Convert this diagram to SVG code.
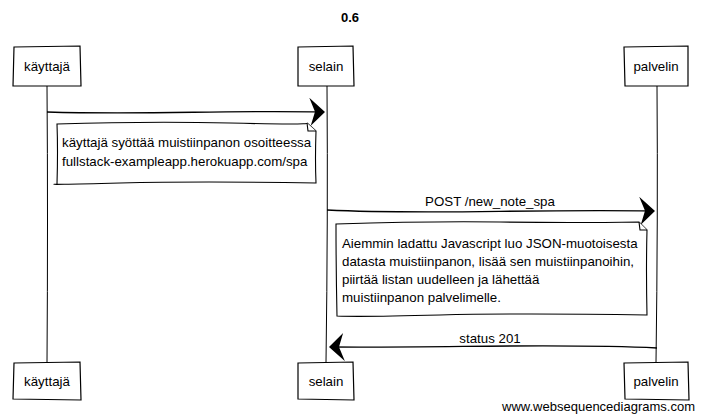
<svg xmlns="http://www.w3.org/2000/svg" width="701" height="420" viewBox="0 0 701 420">
<style>
text{font-family:"Liberation Sans",Arial,sans-serif;font-size:13.3px;fill:#000}
.title{font-weight:bold;font-size:13px}
.box{fill:#fff;stroke:#000;stroke-width:1.2}
.life{fill:none;stroke:#000;stroke-width:1}
.msg{fill:none;stroke:#000;stroke-width:1.3}
.note{fill:#fff;stroke:#000;stroke-width:1.1}
.wm{font-size:13px}
</style>
<defs>
<marker id="ah" viewBox="0 0 16 28" refX="15" refY="14" markerWidth="16" markerHeight="28" markerUnits="userSpaceOnUse" orient="auto">
<path d="M0 0 L16 14 L2 28 L6 14 Z" fill="#000"/>
</marker>
</defs>
<rect width="701" height="420" fill="#fff"/>
<text class="title" x="350" y="22" text-anchor="middle">0.6</text>
<g id="lifelines">
<path class="life" d="M47 86 Q48 220 47 362"/>
<path class="life" d="M327 86 Q328 220 326 362"/>
<path class="life" d="M657 86 Q658 220 656 362"/>
</g>
<g id="connectors">
<path class="msg" d="M47 112 C150 115 220 110 324 112" marker-end="url(#ah)"/>
<path class="msg" d="M327 210 C430 215 520 209 654 211" marker-end="url(#ah)"/>
<text x="490" y="206" text-anchor="middle">POST /new_note_spa</text>
<path class="msg" d="M657 348 C560 343 450 348 330 347" marker-end="url(#ah)"/>
<text x="490" y="343" text-anchor="middle">status 201</text>
</g>
<g id="note1">
<path class="note" d="M57 124 Q150 121 230 123 T307 123 L316 131 Q315 160 316 183 Q200 181 120 183 T57 184 Q58 150 57 124 Z"/>
<path class="note" d="M307 123 L308 131 L316 131" fill="none"/>
<text x="62" y="147">käyttajä syöttää muistiinpanon osoitteessa</text>
<text x="62" y="166">fullstack-exampleapp.herokuapp.com/spa</text>
</g>
<g id="note2">
<path class="note" d="M336 224 Q430 221 500 222 T639 222 L647 230 Q646 270 647 315 Q520 313 440 315 T337 316 Q336 270 336 224 Z"/>
<path class="note" d="M639 222 L640 230 L647 230" fill="none"/>
<text x="342" y="248">Aiemmin ladattu Javascript luo JSON-muotoisesta</text>
<text x="342" y="266">datasta muistiinpanon, lisää sen muistiinpanoihin,</text>
<text x="342" y="284">piirtää listan uudelleen ja lähettää</text>
<text x="342" y="302">muistiinpanon palvelimelle.</text>
</g>
<g id="kayttaja-top">
<path class="box" d="M14 47 L80 46 L81 86 L13 86 Z"/>
<text x="47" y="71" text-anchor="middle">käyttajä</text>
</g>
<g id="selain-top">
<path class="box" d="M298 47 L353 46 L354 86 L298 86 Z"/>
<text x="326" y="71" text-anchor="middle">selain</text>
</g>
<g id="palvelin-top">
<path class="box" d="M624 47 L688 46 L688 86 L625 86 Z"/>
<text x="656" y="71" text-anchor="middle">palvelin</text>
</g>
<g id="kayttaja-bottom">
<path class="box" d="M14 363 L80 362 L81 400 L13 399 Z"/>
<text x="47" y="386" text-anchor="middle">käyttajä</text>
</g>
<g id="selain-bottom">
<path class="box" d="M298 363 L353 362 L354 400 L298 399 Z"/>
<text x="326" y="386" text-anchor="middle">selain</text>
</g>
<g id="palvelin-bottom">
<path class="box" d="M624 363 L688 362 L689 400 L625 399 Z"/>
<text x="656" y="386" text-anchor="middle">palvelin</text>
</g>
<text class="wm" x="695" y="411" text-anchor="end">www.websequencediagrams.com</text>
</svg>
